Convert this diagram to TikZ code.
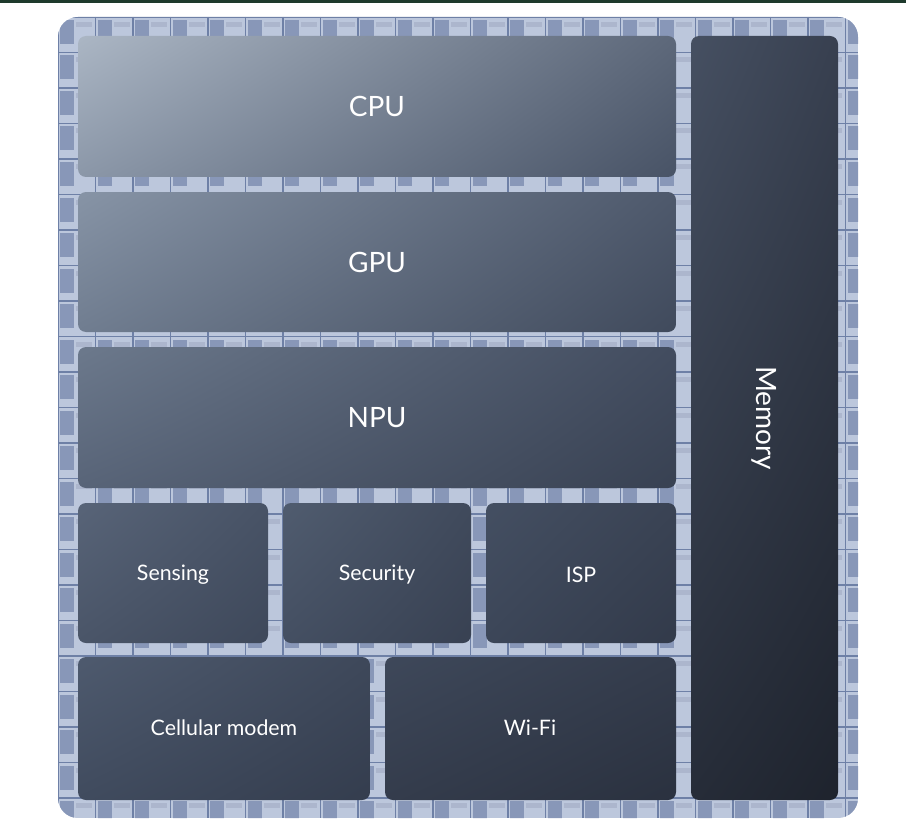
\documentclass[tikz,border=0pt]{standalone}
\usepackage{fontspec}
\setmainfont{Lato}
\usetikzlibrary{shadings}
\definecolor{tileBg}{HTML}{BCC7DC}
\definecolor{tileLine}{HTML}{6E80A6}
\definecolor{tileInk}{HTML}{8897B8}
\definecolor{topBar}{HTML}{1E3A2C}
\definecolor{cpuA}{RGB}{171,182,196}\definecolor{cpuB}{RGB}{93,104,122}\definecolor{cpuC}{RGB}{139,151,168}\definecolor{cpuD}{RGB}{72,83,102}
\definecolor{gpuA}{RGB}{135,148,166}\definecolor{gpuB}{RGB}{78,89,108}\definecolor{gpuC}{RGB}{112,125,144}\definecolor{gpuD}{RGB}{64,74,92}
\definecolor{npuA}{RGB}{108,121,140}\definecolor{npuB}{RGB}{66,76,95}\definecolor{npuC}{RGB}{88,100,120}\definecolor{npuD}{RGB}{56,65,82}
\definecolor{senA}{RGB}{88,100,120}\definecolor{senB}{RGB}{72,83,102}\definecolor{senC}{RGB}{74,85,104}\definecolor{senD}{RGB}{62,72,90}
\definecolor{secA}{RGB}{80,92,111}\definecolor{secB}{RGB}{64,74,92}\definecolor{secC}{RGB}{68,79,98}\definecolor{secD}{RGB}{56,65,82}
\definecolor{ispA}{RGB}{68,79,98}\definecolor{ispB}{RGB}{58,67,84}\definecolor{ispC}{RGB}{60,70,88}\definecolor{ispD}{RGB}{50,58,74}
\definecolor{modA}{RGB}{78,90,110}\definecolor{modB}{RGB}{62,72,90}\definecolor{modC}{RGB}{64,75,94}\definecolor{modD}{RGB}{52,61,78}
\definecolor{wifA}{RGB}{62,72,90}\definecolor{wifB}{RGB}{52,60,76}\definecolor{wifC}{RGB}{52,60,76}\definecolor{wifD}{RGB}{42,49,63}
\definecolor{memA}{RGB}{70,80,98}\definecolor{memB}{RGB}{56,64,80}\definecolor{memC}{RGB}{38,44,56}\definecolor{memD}{RGB}{30,35,45}
\tikzset{
    block/.style={rounded corners=6, draw=none},
    tone/.style={upper left=#1A, upper right=#1B, lower left=#1C, lower right=#1D},
    label/.style={text=white, font=\fontsize{16}{19}\selectfont},
    biglabel/.style={text=white, font=\fontsize{21}{25}\selectfont}
}
\begin{document}
\begin{tikzpicture}[x=0.75pt, y=-0.75pt]
    \useasboundingbox (0,0) rectangle (906,838);
    \fill[white] (0,0) rectangle (906,838);
    \fill[topBar] (0,0) rectangle (906,3);
    % chip die with tile texture
    \begin{scope}
        \clip[rounded corners=15] (58,17) rectangle (858,818);
        \fill[tileBg] (58,17) rectangle (858,818);
        \foreach \i in {0,...,21} {
            \foreach \j in {0,...,22} {
                \fill[tileInk] ({60+\i*37.5},{20+\j*35.5}) rectangle ++(14,24);
                \fill[tileInk!70] ({76+\i*37.5},{22+\j*35.5}) rectangle ++(16,5);
            }
            \draw[tileLine, line width=1.2] ({58+\i*37.5},17) -- ++(0,801);
        }
        \foreach \j in {0,...,22}
            \draw[tileLine, line width=1.2] (58,{17+\j*35.5}) -- ++(800,0);
    \end{scope}
    % blocks
    \shade[block, tone=cpu] (78,36) rectangle (676,177);
    \node[biglabel] (cpu) at (377,106) {CPU};
    \shade[block, tone=gpu] (78,192) rectangle (676,332);
    \node[biglabel] (gpu) at (377,262) {GPU};
    \shade[block, tone=npu] (78,347) rectangle (676,488);
    \node[biglabel] (npu) at (377,418) {NPU};
    \shade[block, tone=sen] (78,503) rectangle (268,643);
    \node[label] (sensing) at (173,575) {Sensing};
    \shade[block, tone=sec] (283,503) rectangle (471,643);
    \node[label] (security) at (377,575) {Security};
    \shade[block, tone=isp] (486,503) rectangle (676,643);
    \node[label] (isp) at (581,575) {ISP};
    \shade[block, tone=mod] (78,657) rectangle (370,800);
    \node[label] (modem) at (224,728) {Cellular modem};
    \shade[block, tone=wif] (385,657) rectangle (676,800);
    \node[label] (wifi) at (530,728) {Wi-Fi};
    \shade[block, tone=mem] (691,36) rectangle (838,800);
    \node[biglabel, rotate=-90] (memory) at (764,418) {Memory};
\end{tikzpicture}
\end{document}
